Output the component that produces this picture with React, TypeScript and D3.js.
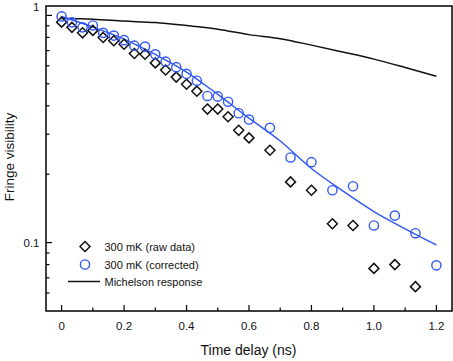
import React from 'react';
import * as d3 from 'd3';

// time delay (ns) of each measurement
const times = [0, 0.033, 0.067, 0.1, 0.133, 0.167, 0.2, 0.233, 0.267, 0.3, 0.333, 0.367, 0.4, 0.433,
  0.467, 0.5, 0.533, 0.567, 0.6, 0.667, 0.733, 0.8, 0.867, 0.933, 1.0, 1.067, 1.133, 1.2];

// 300 mK raw data (no point at 1.2 ns)
const rawVis = [0.934, 0.886, 0.838, 0.859, 0.8, 0.773, 0.747, 0.68, 0.675, 0.618, 0.575, 0.535, 0.498, 0.464,
  0.387, 0.387, 0.358, 0.312, 0.289, 0.255, 0.185, 0.17, 0.121, 0.119, 0.077, 0.08, 0.064];

// 300 mK corrected
const corrVis = [0.99, 0.932, 0.886, 0.903, 0.838, 0.815, 0.778, 0.736, 0.729, 0.674, 0.626, 0.592, 0.553, 0.516,
  0.442, 0.44, 0.417, 0.371, 0.348, 0.32, 0.237, 0.226, 0.17, 0.177, 0.119, 0.1315, 0.11, 0.0794];

// curves
const lineTimes = [0, 0.1, 0.2, 0.3, 0.4, 0.5, 0.6, 0.7, 0.8, 0.9, 1.0, 1.1, 1.2];
const fitVis = [0.989, 0.889, 0.787, 0.673, 0.563, 0.449, 0.353, 0.28, 0.212, 0.169, 0.137, 0.115, 0.0976];
const michelsonVis = [0.968, 0.962, 0.944, 0.93, 0.902, 0.87, 0.823, 0.79, 0.74, 0.69, 0.642, 0.59, 0.54];

const xMajorTicks = [0, 0.2, 0.4, 0.6, 0.8, 1.0, 1.2];
const xTickLabels = ['0', '0.2', '0.4', '0.6', '0.8', '1.0', '1.2'];
const xMinorTicks = [0.1, 0.3, 0.5, 0.7, 0.9, 1.1];
const yMajorTicks = [0.1, 1];
const yTickLabels = ['0.1', '1'];
const yMinorTicks = [0.06, 0.07, 0.08, 0.09, 0.2, 0.3, 0.4, 0.5, 0.6, 0.7, 0.8, 0.9];

const legendItems = ['300 mK (raw data)', '300 mK (corrected)', 'Michelson response'];

const W = 453;
const H = 361;
const margin = { top: 6, right: 1, bottom: 50, left: 46 };
const BLUE = '#3056f5';
const FONT = 'Arial, "Liberation Sans", sans-serif';

const App = () => {
  const x = d3.scaleLinear().domain([-0.05, 1.25]).range([margin.left, W - margin.right]);
  const y = d3.scaleLog().domain([0.05, 1.1]).range([H - margin.bottom, margin.top]);

  const line = d3.line<[number, number]>()
    .x(d => x(d[0]))
    .y(d => y(d[1]))
    .curve(d3.curveMonotoneX);

  const fitPath = line(lineTimes.map((t, i) => [t, fitVis[i]]));
  const michPath = line(lineTimes.map((t, i) => [t, michelsonVis[i]]));

  const x0 = margin.left;
  const x1 = W - margin.right;
  const y0 = H - margin.bottom;
  const y1 = margin.top;

  const diamond = (cx: number, cy: number, r: number) =>
    `M${cx},${cy - r}L${cx + r},${cy}L${cx},${cy + r}L${cx - r},${cy}Z`;

  return (
    <svg width={W} height={H} style={{ position: 'absolute', left: 0, top: 0, background: '#fff' }}
      fontFamily={FONT}>
      {/* ticks */}
      {xMajorTicks.map(t => (
        <line key={'xM' + t} x1={x(t)} x2={x(t)} y1={y0} y2={y0 - 6} stroke="#000" strokeWidth={1.2} />
      ))}
      {xMinorTicks.map(t => (
        <line key={'xm' + t} x1={x(t)} x2={x(t)} y1={y0} y2={y0 - 3.5} stroke="#000" strokeWidth={1.2} />
      ))}
      {yMajorTicks.map(t => (
        <line key={'yM' + t} x1={x0} x2={x0 + 6} y1={y(t)} y2={y(t)} stroke="#000" strokeWidth={1.2} />
      ))}
      {yMinorTicks.map(t => (
        <line key={'ym' + t} x1={x0} x2={x0 + 3.5} y1={y(t)} y2={y(t)} stroke="#000" strokeWidth={1.2} />
      ))}

      {/* tick labels */}
      {xMajorTicks.map((t, i) => (
        <text key={'xl' + t} x={x(t)} y={y0 + 18.5} fontSize={11.5} textAnchor="middle" fill="#111">
          {xTickLabels[i]}
        </text>
      ))}
      {yMajorTicks.map((t, i) => (
        <text key={'yl' + t} x={x0 - 6.5} y={y(t) + 4 - (t === 1 ? 8.7 : 0)} fontSize={11.5}
          textAnchor="end" fill="#111">
          {yTickLabels[i]}
        </text>
      ))}

      {/* axis titles */}
      <text x={248.5} y={355} fontSize={14} textAnchor="middle" fill="#111">Time delay (ns)</text>
      <text transform={`translate(13.5,157) rotate(-90)`} fontSize={13.5} textAnchor="middle" fill="#111">
        Fringe visibility
      </text>

      {/* curves */}
      <path d={michPath || ''} fill="none" stroke="#111" strokeWidth={1.5} />
      <path d={fitPath || ''} fill="none" stroke={BLUE} strokeWidth={1.4} />

      {/* raw data */}
      {rawVis.map((v, i) => (
        <path key={'r' + i} d={diamond(x(times[i]), y(v), 5)} fill="none" stroke="#111" strokeWidth={1.5} />
      ))}
      {/* corrected */}
      {corrVis.map((v, i) => (
        <circle key={'c' + i} cx={x(times[i])} cy={y(v)} r={4.6} fill="none" stroke={BLUE} strokeWidth={1.4} />
      ))}

      {/* legend */}
      <path d={diamond(85, 246.5, 5)} fill="none" stroke="#111" strokeWidth={1.5} />
      <circle cx={85} cy={264.5} r={4.6} fill="none" stroke={BLUE} strokeWidth={1.4} />
      <line x1={68} x2={100} y1={281.5} y2={281.5} stroke="#111" strokeWidth={1.5} />
      {legendItems.map((s, i) => (
        <text key={s} x={104.5} y={[246.5, 264.5, 281.5][i] + 4} fontSize={11} fill="#111">{s}</text>
      ))}

      {/* frame */}
      <rect x={x0} y={y1} width={x1 - x0} height={y0 - y1} fill="none" stroke="#000" strokeWidth={1.5} />
    </svg>
  );
};

export default App;
